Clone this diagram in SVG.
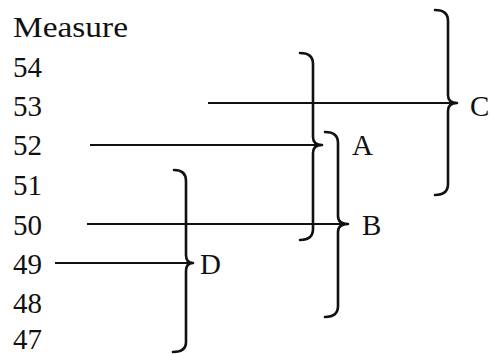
<svg xmlns="http://www.w3.org/2000/svg" width="492" height="354" viewBox="0 0 492 354">
<style>
text{font-family:"Liberation Serif","Times New Roman",serif;font-size:29px;fill:#111}
.brace{fill:none;stroke:#111;stroke-width:2.6;stroke-linecap:round;stroke-linejoin:round}
.conn{fill:none;stroke:#111;stroke-width:1.8}
</style>
<rect width="492" height="354" fill="#fff"/>
<g id="labels">
<text x="13" y="37" textLength="115" lengthAdjust="spacingAndGlyphs">Measure</text>
<text x="13" y="77">54</text>
<text x="13" y="116">53</text>
<text x="13" y="155">52</text>
<text x="13" y="195">51</text>
<text x="13" y="235">50</text>
<text x="13" y="274">49</text>
<text x="13" y="313">48</text>
<text x="13" y="349">47</text>
</g>
<g id="connectors">
<line class="conn" x1="208" y1="103" x2="457" y2="103"/>
<line class="conn" x1="90" y1="145" x2="322" y2="145"/>
<line class="conn" x1="87" y1="224" x2="348" y2="224"/>
<line class="conn" x1="55" y1="263" x2="193" y2="263"/>
</g>
<g id="A">
<path class="brace" d="M300,53 Q313,53 313,64 L313,137 Q313,145 322,145 Q313,145 313,153 L313,229 Q313,240 300,240"/>
<text x="352" y="155">A</text>
</g>
<g id="B">
<path class="brace" d="M325,132 Q338,132 338,143 L338,216 Q338,224 348,224 Q338,224 338,232 L338,306 Q338,317 325,317"/>
<text x="362" y="235">B</text>
</g>
<g id="C">
<path class="brace" d="M435,10 Q448,10 448,21 L448,95 Q448,103 457,103 Q448,103 448,111 L448,184 Q448,195 435,195"/>
<text x="470" y="116">C</text>
</g>
<g id="D">
<path class="brace" d="M174,170 Q186,170 186,181 L186,255 Q186,263 193,263 Q186,263 186,271 L186,342 Q186,352 173,352"/>
<text x="200" y="274">D</text>
</g>
</svg>
